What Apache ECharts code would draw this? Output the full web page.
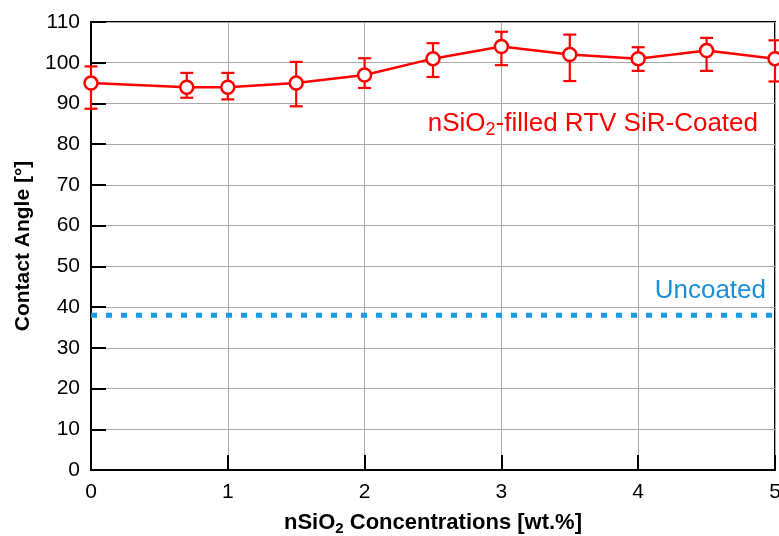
<!DOCTYPE html>
<html>
<head>
<meta charset="utf-8">
<script src="https://cdn.jsdelivr.net/npm/echarts@6/dist/echarts.min.js"></script>
<style>
  html, body { margin: 0; padding: 0; background: #fff; }
  #chart { width: 779px; height: 536px; }
</style>
</head>
<body>
<div id="chart"></div>
<script>
// nSiO2 loading (wt.%)
const concentrations = [0, 0.7, 1, 1.5, 2, 2.5, 3, 3.5, 4, 4.5, 5];
// Mean contact angle of the coated samples (degrees)
const contactAngle = [95, 94, 94, 95, 97, 101, 104, 102, 101, 103, 101];
// Error bar extents (lower / upper, degrees)
const errLower = [88.7, 91.4, 91.0, 89.3, 93.8, 96.5, 99.4, 95.5, 98.0, 98.0, 95.4];
const errUpper = [99.1, 97.5, 97.5, 100.2, 101.1, 104.8, 107.6, 106.9, 103.8, 106.1, 105.5];
// Reference level of the uncoated surface
const uncoatedAngle = 38;
const uncoatedRange = [0, 5];
const yTicks = { min: 0, max: 110, step: 10 };
const xTicks = { min: 0, max: 5, step: 1 };

const RED = '#ff0000';
const BLUE = '#1a9be3';
const FONT = '"Liberation Sans", Arial, sans-serif';

const chart = echarts.init(document.getElementById('chart'), null, { renderer: 'canvas' });

const meanData = concentrations.map((x, i) => [x, contactAngle[i]]);
const errData = concentrations.map((x, i) => [x, errLower[i], errUpper[i]]);
const uncoatedData = uncoatedRange.map(x => [x, uncoatedAngle]);

function renderErrorBar(params, api) {
  const x = api.value(0);
  const lo = api.coord([x, api.value(1)]);
  const hi = api.coord([x, api.value(2)]);
  const half = 6.5;
  const style = { stroke: RED, lineWidth: 2.2, fill: null };
  return {
    type: 'group',
    children: [
      { type: 'line', shape: { x1: lo[0], y1: lo[1], x2: hi[0], y2: hi[1] }, style },
      { type: 'line', shape: { x1: lo[0] - half, y1: lo[1], x2: lo[0] + half, y2: lo[1] }, style },
      { type: 'line', shape: { x1: hi[0] - half, y1: hi[1], x2: hi[0] + half, y2: hi[1] }, style }
    ]
  };
}

chart.setOption({
  animation: false,
  backgroundColor: '#ffffff',
  textStyle: { fontFamily: FONT },
  grid: {
    left: 91, right: 4, top: 22, bottom: 66,
    containLabel: false,
    outerBoundsMode: 'none',
    show: true, borderColor: '#000', borderWidth: 2, backgroundColor: 'transparent'
  },
  xAxis: {
    type: 'value',
    min: xTicks.min, max: xTicks.max, interval: xTicks.step,
    name: '{b|nSiO}{s|2}{b| Concentrations [wt.%]}',
    nameLocation: 'middle',
    nameGap: 40,
    nameTextStyle: {
      rich: {
        b: { fontFamily: FONT, fontSize: 22, fontWeight: 'bold', color: '#000', lineHeight: 26, verticalAlign: 'middle' },
        s: { fontFamily: FONT, fontSize: 15, fontWeight: 'bold', color: '#000', lineHeight: 18, verticalAlign: 'bottom' }
      }
    },
    axisLine: { show: true, onZero: false, lineStyle: { color: '#000', width: 2 } },
    axisTick: { show: true, inside: true, length: 15, lineStyle: { color: '#000', width: 2 } },
    axisLabel: { color: '#000', fontSize: 21, fontFamily: FONT, margin: 12 },
    splitLine: { show: true, lineStyle: { color: '#aaaaaa', width: 1 } }
  },
  yAxis: {
    type: 'value',
    min: yTicks.min, max: yTicks.max, interval: yTicks.step,
    name: 'Contact Angle [°]',
    nameLocation: 'middle',
    nameGap: 52,
    nameTextStyle: { color: '#000', fontSize: 21, fontWeight: 'bold', fontFamily: FONT },
    axisLine: { show: true, lineStyle: { color: '#000', width: 2 } },
    axisTick: { show: true, inside: true, length: 15, lineStyle: { color: '#000', width: 2 } },
    axisLabel: { color: '#000', fontSize: 21, fontFamily: FONT, margin: 11 },
    splitLine: { show: true, lineStyle: { color: '#aaaaaa', width: 1 } }
  },
  series: [
    {
      name: 'Uncoated',
      type: 'line',
      data: uncoatedData,
      symbol: 'none',
      lineStyle: { color: BLUE, width: 5, type: [6, 9], cap: 'butt' },
      z: 3
    },
    {
      name: 'error',
      type: 'custom',
      data: errData,
      renderItem: renderErrorBar,
      z: 4
    },
    {
      name: 'nSiO2-filled RTV SiR-Coated',
      type: 'line',
      data: meanData,
      symbol: 'circle',
      symbolSize: 13,
      showAllSymbol: true,
      itemStyle: { color: '#fff', borderColor: RED, borderWidth: 2.5 },
      lineStyle: { color: RED, width: 2.5 },
      z: 5
    }
  ],
  graphic: [
    {
      type: 'text',
      x: 758, y: 124,
      style: {
        text: '{a|nSiO}{s|2}{a|-filled RTV SiR-Coated}',
        align: 'right', verticalAlign: 'middle',
        rich: {
          a: { fontFamily: FONT, fontSize: 26, fill: RED, color: RED, lineHeight: 30, verticalAlign: 'middle' },
          s: { fontFamily: FONT, fontSize: 18, fill: RED, color: RED, lineHeight: 16, verticalAlign: 'bottom' }
        }
      },
      z: 10
    },
    {
      type: 'text',
      x: 766, y: 291,
      style: {
        text: 'Uncoated',
        align: 'right', verticalAlign: 'middle',
        fontFamily: FONT, fontSize: 26, fill: '#1a8fd6'
      },
      z: 10
    }
  ]
});
</script>
</body>
</html>
